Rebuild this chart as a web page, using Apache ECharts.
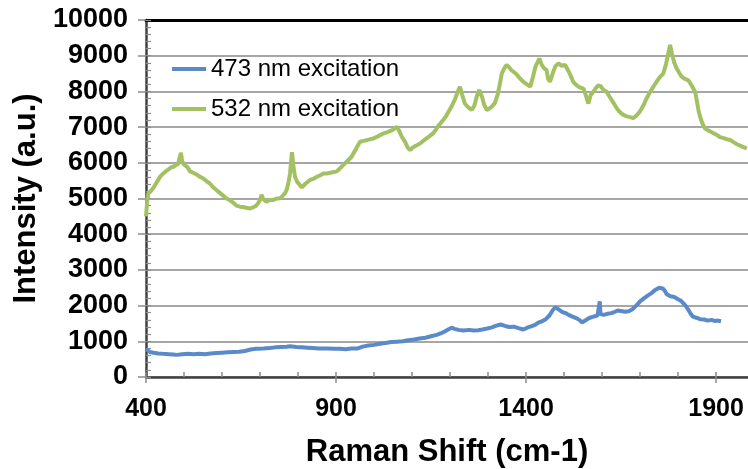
<!DOCTYPE html>
<html><head><meta charset="utf-8">
<script src="https://cdn.jsdelivr.net/npm/echarts@6/dist/echarts.min.js"></script>
<style>html,body{margin:0;padding:0;background:#fff}#c{width:748px;height:469px}</style>
</head><body><div id="c"></div>
<script>
const seriesNames = ['473 nm excitation', '532 nm excitation'];
const xLabelTicks = [400, 900, 1400, 1900];
const blue473 = [[400,780],[404,730],[410,700],[420,680],[432,660],[445,650],[460,640],[472,630],[481,620],[495,640],[510,650],[525,640],[540,650],[555,640],[570,660],[585,670],[600,680],[615,690],[630,700],[645,710],[660,730],[675,770],[690,790],[709,800],[725,810],[740,830],[755,840],[770,850],[779,860],[795,840],[810,830],[825,820],[840,810],[855,800],[878,800],[895,790],[910,790],[925,780],[940,800],[957,800],[970,850],[985,880],[1000,900],[1016,930],[1030,950],[1045,980],[1060,990],[1076,1000],[1090,1030],[1105,1050],[1120,1080],[1135,1100],[1150,1140],[1165,1180],[1175,1220],[1185,1270],[1195,1330],[1204,1380],[1212,1350],[1222,1320],[1235,1300],[1250,1320],[1262,1300],[1274,1310],[1285,1330],[1298,1360],[1310,1390],[1320,1430],[1333,1470],[1345,1430],[1356,1400],[1368,1410],[1380,1370],[1393,1330],[1403,1380],[1413,1420],[1424,1460],[1432,1520],[1442,1560],[1452,1620],[1462,1730],[1470,1870],[1477,1950],[1485,1900],[1495,1820],[1504,1790],[1512,1740],[1522,1690],[1532,1650],[1540,1600],[1547,1530],[1556,1580],[1564,1640],[1571,1670],[1580,1700],[1588,1720],[1593,1740],[1594,2120],[1596,1760],[1604,1740],[1614,1770],[1624,1790],[1632,1820],[1641,1860],[1650,1850],[1660,1830],[1670,1840],[1680,1900],[1690,2000],[1700,2120],[1710,2200],[1720,2280],[1730,2350],[1740,2440],[1750,2500],[1760,2480],[1766,2400],[1770,2320],[1780,2260],[1790,2240],[1800,2180],[1809,2120],[1818,2020],[1826,1900],[1834,1760],[1839,1690],[1848,1660],[1858,1620],[1869,1610],[1878,1580],[1888,1600],[1896,1570],[1905,1580],[1913,1560]];
const green532 = [[400,4500],[403,4900],[406,5150],[412,5200],[419,5290],[425,5400],[431,5500],[437,5610],[445,5700],[452,5760],[460,5820],[466,5870],[472,5890],[478,5930],[484,5960],[489,5990],[492,6280],[495,6050],[499,5960],[503,5940],[509,5880],[516,5760],[524,5720],[532,5680],[540,5620],[551,5560],[560,5480],[568,5420],[576,5320],[586,5230],[595,5150],[603,5080],[612,5000],[621,4950],[630,4880],[638,4800],[647,4770],[655,4760],[664,4740],[674,4720],[683,4760],[690,4800],[695,4870],[700,4960],[704,5100],[709,4980],[717,4910],[725,4960],[735,4960],[744,5000],[753,5010],[760,5080],[766,5150],[770,5240],[775,5450],[779,5700],[784,6300],[788,5900],[792,5610],[797,5480],[801,5430],[810,5310],[820,5420],[832,5520],[842,5560],[852,5620],[860,5660],[867,5700],[876,5700],[885,5720],[894,5740],[902,5760],[910,5840],[919,5940],[930,6050],[941,6170],[952,6380],[963,6590],[975,6620],[986,6650],[998,6680],[1010,6740],[1024,6820],[1035,6860],[1045,6900],[1053,6950],[1060,7010],[1066,6900],[1073,6730],[1082,6580],[1089,6420],[1095,6360],[1102,6430],[1110,6480],[1121,6540],[1130,6620],[1140,6700],[1148,6760],[1156,6830],[1163,6930],[1170,7050],[1176,7120],[1182,7200],[1189,7300],[1196,7430],[1205,7600],[1213,7780],[1220,7980],[1226,8130],[1232,7900],[1239,7660],[1248,7550],[1257,7480],[1264,7600],[1270,7850],[1277,8040],[1284,7850],[1290,7620],[1297,7480],[1305,7530],[1312,7600],[1318,7670],[1325,7900],[1331,8200],[1336,8500],[1343,8650],[1349,8740],[1355,8680],[1361,8600],[1367,8550],[1375,8480],[1384,8360],[1393,8270],[1402,8200],[1411,8130],[1418,8400],[1425,8700],[1435,8920],[1441,8750],[1447,8650],[1454,8600],[1458,8350],[1463,8270],[1470,8500],[1477,8700],[1485,8780],[1494,8720],[1503,8740],[1510,8600],[1517,8450],[1524,8270],[1532,8180],[1540,8120],[1551,8080],[1557,7900],[1564,7660],[1570,7900],[1577,7990],[1584,8100],[1590,8170],[1596,8150],[1603,8050],[1612,7990],[1620,7850],[1630,7680],[1639,7520],[1647,7420],[1656,7340],[1665,7300],[1674,7280],[1682,7250],[1690,7320],[1697,7400],[1703,7500],[1709,7610],[1717,7800],[1726,7980],[1735,8130],[1744,8280],[1752,8400],[1761,8500],[1768,8750],[1774,9050],[1779,9300],[1784,9050],[1790,8800],[1796,8650],[1803,8520],[1810,8410],[1818,8350],[1827,8310],[1835,8180],[1840,8080],[1845,7990],[1850,7700],[1854,7450],[1858,7290],[1864,7100],[1871,6960],[1880,6900],[1890,6850],[1902,6780],[1910,6720],[1920,6690],[1928,6660],[1937,6640],[1946,6580],[1955,6520],[1963,6480],[1972,6440],[1981,6400]];

const XMIN = 400, XMAX = 1984, YMAX = 10000;
const minorX = [];
for (let v = XMIN; v <= 1900; v += 100) minorX.push(v);
const plain = v => String(v);

const FONT = '"Liberation Sans", Arial, sans-serif';
const chart = echarts.init(document.getElementById('c'), null, {renderer: 'canvas'});
chart.setOption({
  animation: false,
  backgroundColor: '#fff',
  grid: {left: 146, top: 20, right: 0, bottom: 92, containLabel: false, outerBoundsMode: 'none'},
  legend: {
    orient: 'vertical', left: 167, top: 52, itemGap: 16,
    icon: 'rect', itemWidth: 34, itemHeight: 4,
    textStyle: {fontFamily: FONT, fontSize: 24, color: '#000'},
    data: seriesNames
  },
  xAxis: [
    {
      type: 'value', min: XMIN, max: XMAX, position: 'bottom',
      name: 'Raman Shift (cm-1)', nameLocation: 'middle', nameGap: 60, nameMoveOverlap: false,
      nameTextStyle: {fontFamily: FONT, fontSize: 31, fontWeight: 'bold', color: '#000'},
      axisLine: {show: true, lineStyle: {color: '#404040', width: 2.5}},
      axisTick: {show: true, customValues: xLabelTicks, length: 6, lineStyle: {color: '#8c8c8c', width: 1.5}},
      axisLabel: {customValues: xLabelTicks, formatter: plain, margin: 20, fontFamily: FONT, fontSize: 25, fontWeight: 'bold', color: '#000'},
      splitLine: {show: false}
    },
    {
      type: 'value', min: XMIN, max: XMAX, position: 'bottom',
      axisLine: {show: false},
      axisTick: {show: true, inside: true, customValues: minorX, length: 5, lineStyle: {color: '#8c8c8c', width: 1.5}},
      axisLabel: {show: false}, splitLine: {show: false}
    },
    {
      type: 'value', min: XMIN, max: XMAX, position: 'top',
      axisLine: {show: true, lineStyle: {color: '#000', width: 3}},
      axisTick: {show: false}, axisLabel: {show: false}, splitLine: {show: false}
    }
  ],
  yAxis: [
    {
      type: 'value', min: 0, max: YMAX, interval: 1000,
      name: 'Intensity (a.u.)', nameLocation: 'middle', nameGap: 104, nameRotate: 90, nameMoveOverlap: false,
      nameTextStyle: {fontFamily: FONT, fontSize: 31, fontWeight: 'bold', color: '#000'},
      axisLine: {show: true, lineStyle: {color: '#404040', width: 2.5}},
      axisTick: {show: true, length: 8, lineStyle: {color: '#8c8c8c', width: 1.5}},
      axisLabel: {margin: 18, formatter: plain, fontFamily: FONT, fontSize: 27, fontWeight: 'bold', color: '#000'},
      splitLine: {show: true, lineStyle: {color: '#a6a6a6', width: 2}}
    },
    {
      type: 'value', min: 0, max: YMAX, interval: 200, position: 'left',
      axisLine: {show: false},
      axisTick: {show: true, inside: true, length: 5, lineStyle: {color: '#8c8c8c', width: 1.2}},
      axisLabel: {show: false}, splitLine: {show: false}
    }
  ],
  series: [
    {name: seriesNames[0], type: 'line', data: blue473, showSymbol: false, symbol: 'none',
     lineStyle: {color: '#5a8bc8', width: 4}, itemStyle: {color: '#5a8bc8'}, z: 3},
    {name: seriesNames[1], type: 'line', data: green532, showSymbol: false, symbol: 'none',
     lineStyle: {color: '#a3c163', width: 4}, itemStyle: {color: '#a3c163'}, z: 3}
  ]
});
</script>
</body></html>
